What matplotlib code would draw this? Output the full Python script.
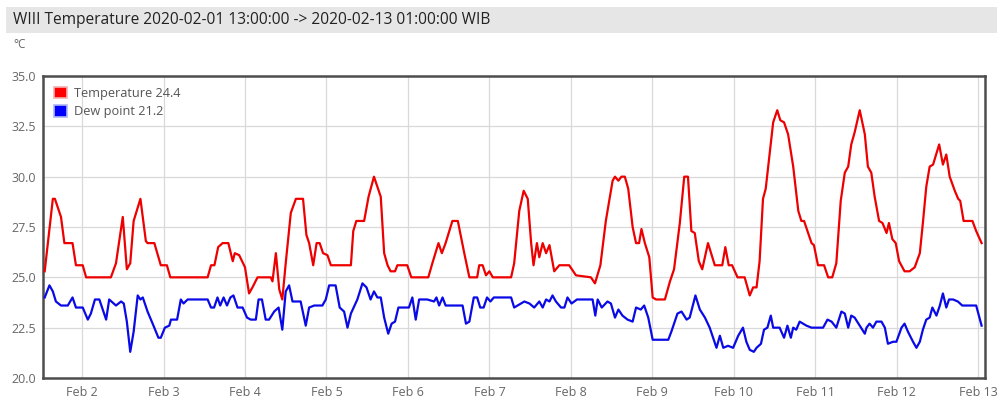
import pandas as pd
import matplotlib
matplotlib.use("Agg")
import matplotlib.pyplot as plt
import matplotlib.dates as mdates
from matplotlib.patches import Patch, Rectangle
from matplotlib.ticker import FuncFormatter


START = pd.Timestamp("2020-02-01 13:00:00")
END = pd.Timestamp("2020-02-13 01:00:00")

# observation times (hours after START) and values in °C
temp_hours = [
    0, 2.4, 3.0, 4.8, 5.8, 8.2, 9.2, 11.2, 12.2, 19.5, 21.0, 23.0, 24.2, 25.2, 26.2,
    28.2, 29.8, 30.3, 32.3, 34.2, 36.0, 37.0, 48.0, 49.0, 50.0, 51.1, 52.4, 54.1, 55.4,
    56.0, 57.3, 59.0, 60.2, 61.2, 62.7, 66.6, 67.1, 68.1, 69.1, 70.0, 71.0, 72.5, 74.0,
    76.1, 77.1, 77.9, 79.1, 80.1, 81.0, 82.0, 83.3, 84.3, 90.2, 90.9, 91.8, 94.1, 95.4,
    97.0, 99.0, 100.0, 101.0, 101.9, 103.2, 103.9, 106.8, 108.0, 113.0, 114.2, 116.0,
    117.0, 118.1, 120.1, 121.7, 123.6, 125.1, 127.4, 128.0, 129.0, 130.0, 131.0, 132.0,
    137.4, 138.3, 139.8, 141.1, 142.3, 143.3, 144.0, 145.0, 145.7, 146.7, 147.7, 148.7,
    150.1, 151.6, 154.5, 156.5, 160.9, 162.1, 163.7, 165.3, 167.3, 168.0, 169.0, 169.9,
    170.9, 171.9, 173.2, 174.2, 175.1, 175.8, 176.8, 178.1, 179.1, 180.1, 182.7, 184.2,
    185.4, 187.1, 188.4, 189.5, 190.5, 191.5, 192.7, 193.7, 195.4, 197.4, 199.6, 200.5,
    201.5, 202.5, 204.1, 206.2, 207.7, 208.7, 209.7, 210.6, 211.6, 212.4, 214.6, 215.8,
    216.7, 217.8, 219.0, 220.5, 222.0, 222.9, 223.7, 225.9, 226.6, 227.8, 229.6, 230.8,
    232.0, 233.2, 234.5, 235.7, 236.7, 237.6, 238.6, 240.1, 241.6, 242.5, 243.5, 244.5,
    245.8, 246.8, 248.0, 248.7, 249.7, 250.7, 251.7, 253.3, 254.8, 256.3, 257.8, 258.7,
    259.7, 260.7, 261.7, 263.5, 264.6, 265.6, 266.6, 268.1, 269.1, 269.7, 270.7, 273.3,
    274.4, 276.0,
]
temp_values = [
    25.3, 28.9, 28.9, 28.0, 26.7, 26.7, 25.6, 25.6, 25.0, 25.0, 25.7, 28.0, 25.4, 25.7, 27.8,
    28.9, 26.8, 26.7, 26.7, 25.6, 25.6, 25.0, 25.0, 25.6, 25.6, 26.5, 26.7, 26.7, 25.8,
    26.2, 26.1, 25.5, 24.2, 24.5, 25.0, 25.0, 24.8, 26.2, 24.4, 23.9, 25.7, 28.2, 28.9,
    28.9, 27.1, 26.7, 25.6, 26.7, 26.7, 26.2, 26.1, 25.6, 25.6, 27.3, 27.8, 27.8, 29.0,
    30.0, 29.0, 26.2, 25.6, 25.3, 25.3, 25.6, 25.6, 25.0, 25.0, 25.7, 26.7,
    26.2, 26.7, 27.8, 27.8, 26.2, 25.0, 25.0, 25.6, 25.6, 25.1, 25.3, 25.0,
    25.0, 25.7, 28.3, 29.3, 28.9, 26.7, 25.6, 26.7, 26.0, 26.7, 26.2, 26.6,
    25.3, 25.6, 25.6, 25.1, 25.0, 24.7, 25.6, 27.8, 29.8, 30.0, 29.8, 30.0,
    30.0, 29.4, 27.5, 26.7, 26.7, 27.4, 26.7, 26.0, 24.0, 23.9, 23.9, 24.8,
    25.4, 27.7, 30.0, 30.0, 27.3, 27.2, 25.8, 25.4, 26.7, 25.6, 25.6, 26.5,
    25.6, 25.6, 25.0, 25.0, 24.1, 24.5, 24.5, 25.8, 28.9, 29.4, 32.7, 33.3,
    32.8, 32.7, 32.1, 30.5, 28.3, 27.8, 27.8, 26.7, 26.6, 25.6, 25.6, 25.0,
    25.0, 25.7, 28.8, 30.2, 30.5, 31.6, 32.2, 33.3, 32.1, 30.5, 30.2, 29.0,
    27.8, 27.7, 27.2, 27.7, 26.9, 26.7, 25.8, 25.3, 25.3, 25.5, 26.2, 27.7,
    29.5, 30.5, 30.6, 31.6, 30.6, 31.1, 30.0, 29.3, 28.9, 28.8, 27.8, 27.8,
    27.3, 26.7,
]

dew_hours = [
    0, 1.4, 2.4, 3.3, 4.8, 6.8, 8.2, 9.2, 11.2, 12.7, 13.6, 14.8, 16.1, 18.1, 19.0, 21.0,
    22.5, 23.3, 24.2, 25.2, 26.2, 27.4, 28.2, 28.9, 30.3, 31.8, 33.5, 34.2, 35.4, 36.7,
    37.2, 39.0, 40.1, 40.9, 42.1, 48.0, 49.0, 49.9, 50.9, 51.7, 52.7, 53.7, 54.7, 55.6,
    56.8, 58.3, 59.6, 60.7, 62.2, 63.0, 64.0, 65.1, 66.1, 67.6, 68.9, 70.0, 71.0, 72.0,
    73.0, 75.4, 76.9, 77.9, 79.4, 81.8, 82.8, 83.8, 85.7, 86.9, 88.2, 89.2, 90.2, 92.1,
    93.6, 94.8, 96.0, 97.0, 98.0, 99.0, 100.0, 101.2, 102.2, 103.2, 104.2, 107.3, 108.3,
    109.3, 110.3, 112.7, 114.7, 115.4, 116.2, 117.2, 118.1, 121.1, 123.1, 124.1, 125.1,
    126.4, 127.4, 128.3, 129.3, 130.3, 131.3, 132.3, 137.4, 138.3, 139.3, 141.3, 142.8,
    144.2, 145.7, 146.7, 147.7, 148.7, 149.6, 150.6, 152.1, 153.1, 154.0, 155.2, 156.8,
    161.4, 162.2, 162.9, 164.1, 165.8, 166.8, 168.0, 169.0, 170.2, 171.7, 173.2, 174.2,
    175.6, 176.6, 177.8, 179.1, 181.5, 183.7, 184.6, 186.4, 187.6, 189.1, 190.0, 191.7,
    193.0, 194.5, 195.9, 196.9, 197.9, 198.9, 199.9, 201.3, 202.8, 204.3, 205.7, 206.7,
    207.7, 208.9, 209.7, 211.0, 211.9, 212.9, 213.9, 214.6, 216.5, 217.8, 218.8, 219.8,
    220.5, 221.4, 222.4, 224.4, 225.9, 229.3, 230.6, 231.8, 233.2, 234.7, 235.7, 236.7,
    237.6, 238.6, 240.1, 241.6, 242.1, 243.0, 244.0, 245.0, 246.5, 247.5, 248.4, 249.9,
    250.9, 252.4, 253.3, 254.3, 255.8, 256.8, 257.8, 258.7, 259.7, 260.7, 261.5, 262.7,
    263.7, 264.6, 265.6, 266.4, 267.6, 269.0, 270.3, 274.4, 276.0,
]
dew_values = [
    24.0, 24.6, 24.3, 23.8, 23.6, 23.6, 24.0, 23.5, 23.5, 22.9, 23.2, 23.9, 23.9, 22.9, 23.9, 23.6,
    23.8, 23.7, 22.8, 21.3, 22.3, 24.1, 23.9, 24.0, 23.3, 22.7, 22.0, 22.0, 22.5, 22.6,
    22.9, 22.9, 23.9, 23.7, 23.9, 23.9, 23.5, 23.5, 24.0, 23.6, 24.0, 23.6, 24.0, 24.1,
    23.5, 23.5, 23.0, 22.9, 22.9, 23.9, 23.9, 22.9, 22.9, 23.3, 23.5, 22.4, 24.3, 24.6,
    23.8, 23.8, 22.6, 23.5, 23.6, 23.6, 23.9, 24.6, 24.6, 23.5, 23.3, 22.5, 23.2, 23.9,
    24.7, 24.5, 23.9, 24.3, 24.0, 24.0, 23.0, 22.2, 22.7, 22.8, 23.5, 23.5, 24.0,
    22.9, 23.9, 23.9, 23.8, 24.0, 23.6, 24.0, 23.6, 23.6, 23.6, 22.7, 22.8,
    24.0, 24.0, 23.5, 23.5, 24.0, 23.8, 24.0, 24.0, 23.5, 23.6, 23.8, 23.7,
    23.5, 23.8, 23.5, 23.9, 23.8, 24.1, 23.8, 23.5, 23.5, 24.0, 23.7, 23.9,
    23.9, 23.1, 23.9, 23.5, 23.8, 23.7, 23.0, 23.4, 23.1, 22.9, 22.8, 23.5,
    23.4, 23.6, 23.0, 21.9, 21.9, 21.9, 22.3, 23.2, 23.3, 22.9, 23.0, 24.1,
    23.4, 23.0, 22.5, 22.0, 21.5, 22.1, 21.5, 21.6, 21.5, 22.1, 22.5, 21.8,
    21.4, 21.3, 21.5, 21.7, 22.4, 22.5, 23.1, 22.5, 22.5, 22.0, 22.6, 22.0,
    22.5, 22.4, 22.8, 22.6, 22.5, 22.5, 22.9, 22.8, 22.5, 23.3, 23.2, 22.5,
    23.1, 23.0, 22.6, 22.2, 22.5, 22.7, 22.5, 22.8, 22.8, 22.5, 21.7, 21.8,
    21.8, 22.5, 22.7, 22.3, 21.8, 21.5, 21.8, 22.4, 22.9, 23.0, 23.5, 23.1,
    23.6, 24.2, 23.5, 23.9, 23.9, 23.8, 23.6, 23.6, 22.6,
]

TITLE = "WIII Temperature 2020-02-01 13:00:00 -> 2020-02-13 01:00:00 WIB"
UNIT = "°C"
SERIES_LABELS = ["Temperature 24.4", "Dew point 21.2"]
Y_TICKS = [20.0, 22.5, 25.0, 27.5, 30.0, 32.5, 35.0]

RED = "#ee0000"
BLUE = "#0a0ae6"
LABEL_GREY = "#666666"
FONT = "Open Sans"


def to_times(hours):
    return START + pd.to_timedelta(hours, unit="h")


fig = plt.figure(figsize=(9.99, 4.01), dpi=100)

# header strip with the chart title
fig.patches.append(Rectangle((6 / 999, 1 - 33 / 401), 991 / 999, 26 / 401,
                             transform=fig.transFigure, facecolor="#e6e6e6",
                             edgecolor="none", zorder=0))
fig.text(13 / 999, 1 - 20 / 401, TITLE, fontsize=11.2, family=FONT,
         color="#222222", va="center", ha="left")
fig.text(13 / 999, 1 - 45 / 401, UNIT, fontsize=8.5, family=FONT,
         color=LABEL_GREY, va="center", ha="left")

ax = fig.add_axes([43 / 999, 23 / 401, 942 / 999, 302 / 401])

ax.plot(to_times(temp_hours), temp_values, color=RED, lw=1.6, solid_joinstyle="round", zorder=3)
ax.plot(to_times(dew_hours), dew_values, color=BLUE, lw=1.6, solid_joinstyle="round", zorder=3)

ax.set_ylim(Y_TICKS[0], Y_TICKS[-1])
ax.set_yticks(Y_TICKS)
ax.yaxis.set_major_formatter(FuncFormatter(lambda v, _: f"{v:.1f}"))
ax.set_xlim(START - pd.Timedelta(minutes=30), END + pd.Timedelta(hours=1))
ax.xaxis.set_major_locator(mdates.DayLocator())
ax.xaxis.set_major_formatter(FuncFormatter(
    lambda v, _: f"{mdates.num2date(v):%b} {mdates.num2date(v).day}"))

ax.grid(True, color="#d9d9d9", lw=0.9, zorder=1)
ax.set_axisbelow(True)
ax.tick_params(length=0, labelsize=9, labelcolor=LABEL_GREY)
ax.tick_params(axis="y", pad=5)
ax.tick_params(axis="x", pad=5.5)
for label in ax.get_xticklabels() + ax.get_yticklabels():
    label.set_family(FONT)
for spine in ax.spines.values():
    spine.set_color("#4d4d4d")
    spine.set_linewidth(1.8)

handles = [
    Patch(facecolor="#ff0000", edgecolor="#f4b0b0", lw=1.2),
    Patch(facecolor="#0000ff", edgecolor="#b0b8f4", lw=1.2),
]
leg = ax.legend(handles, SERIES_LABELS, loc="upper left", frameon=False,
                handlelength=1.0, handleheight=1.0, handletextpad=0.55,
                labelspacing=0.4, borderaxespad=0.45,
                prop={"family": FONT, "size": 9.2})
for text in leg.get_texts():
    text.set_color("#555555")

fig.savefig("out.png", dpi=100)
